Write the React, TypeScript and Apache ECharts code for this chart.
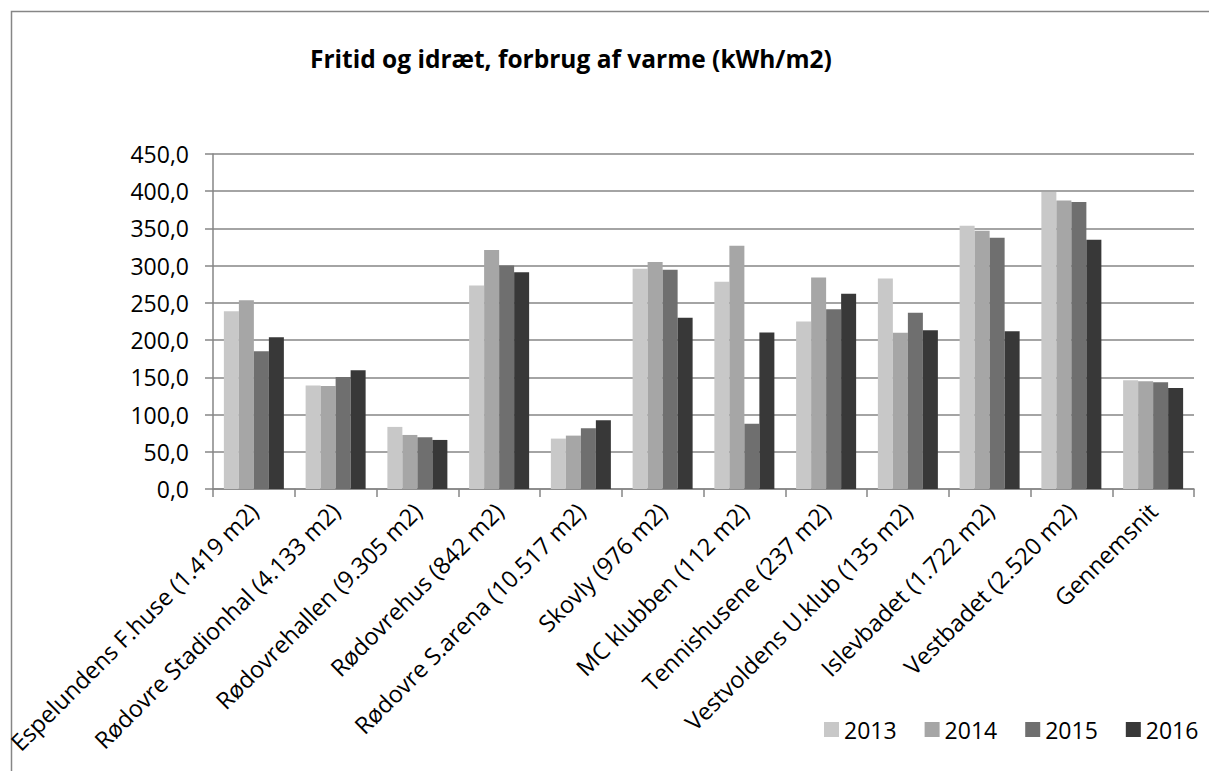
import React, { useEffect, useRef } from "react";
import * as echarts from "echarts";

const categories = [
  "Espelundens F.huse (1.419 m2)",
  "Rødovre Stadionhal (4.133 m2)",
  "Rødovrehallen (9.305 m2)",
  "Rødovrehus (842 m2)",
  "Rødovre S.arena (10.517 m2)",
  "Skovly (976 m2)",
  "MC klubben (112 m2)",
  "Tennishusene (237 m2)",
  "Vestvoldens U.klub (135 m2)",
  "Islevbadet (1.722 m2)",
  "Vestbadet (2.520 m2)",
  "Gennemsnit",
];

const years = ["2013", "2014", "2015", "2016"];

const values2013 = [238.9, 138.9, 83.4, 273.4, 67.7, 295.8, 278.3, 225.0, 282.8, 353.6, 398.9, 146.1];
const values2014 = [253.7, 138.5, 72.6, 320.9, 71.7, 304.8, 326.7, 284.2, 209.8, 346.9, 387.7, 144.8];
const values2015 = [185.1, 150.6, 69.5, 300.3, 81.6, 294.5, 87.8, 241.6, 236.7, 337.5, 385.5, 143.4];
const values2016 = [203.9, 159.6, 65.9, 291.3, 92.3, 229.9, 210.2, 262.2, 213.3, 212.0, 334.8, 135.8];

const seriesValues = [values2013, values2014, values2015, values2016];
const colors = ["#c8c8c8", "#a6a6a6", "#6f6f6f", "#383838"];

const FONT = "'Open Sans', 'Noto Sans', sans-serif";
const GRAY = "#868686";

export default function App() {
  const ref = useRef<HTMLDivElement>(null);

  useEffect(() => {
    if (!ref.current) return;
    const chart = echarts.init(ref.current, null, { renderer: "svg" });
    chart.setOption({
      animation: false,
      backgroundColor: "#ffffff",
      textStyle: { fontFamily: FONT, color: "#000" },
      title: {
        text: "Fritid og idræt, forbrug af varme (kWh/m2)",
        left: 305,
        top: 41,
        textStyle: { fontFamily: FONT, fontSize: 24.5, fontWeight: "bold", color: "#000" },
      },
      graphic: [
        {
          type: "rect",
          left: 9,
          top: 9,
          shape: { x: 0, y: 0, width: 1400, height: 1000 },
          style: { fill: "none", stroke: GRAY, lineWidth: 1.5 },
          silent: true,
        },
      ],
      legend: {
        data: years,
        left: 819,
        top: 713,
        itemWidth: 15,
        itemHeight: 15,
        itemGap: 28,
        icon: "rect",
        textStyle: { fontFamily: FONT, fontSize: 23, color: "#000" },
      },
      grid: { left: 213, right: 15, top: 154, bottom: 282, containLabel: false },
      xAxis: {
        type: "category",
        data: categories,
        axisLine: { show: true, lineStyle: { color: GRAY, width: 1.5 } },
        axisTick: { show: true, length: 8, lineStyle: { color: GRAY, width: 1.5 } },
        axisLabel: {
          rotate: 45,
          interval: 0,
          margin: 18,
          fontFamily: FONT,
          fontSize: 23.5,
          color: "#000",
        },
      },
      yAxis: {
        type: "value",
        min: 0,
        max: 450,
        interval: 50,
        axisLine: { show: true, lineStyle: { color: GRAY, width: 1.5 } },
        axisTick: { show: true, length: 8, lineStyle: { color: GRAY, width: 1.5 } },
        splitLine: { show: true, lineStyle: { color: GRAY, width: 1.5 } },
        axisLabel: {
          margin: 24,
          fontFamily: FONT,
          fontSize: 23,
          color: "#000",
          formatter: (v: number) => v.toFixed(1).replace(".", ","),
        },
      },
      series: years.map((y, i) => ({
        name: y,
        type: "bar",
        data: seriesValues[i],
        barGap: "0%",
        barCategoryGap: "26.6%",
        itemStyle: { color: colors[i] },
      })),
    });
    return () => chart.dispose();
  }, []);

  return (
    <div
      ref={ref}
      style={{ position: "absolute", left: 0, top: 0, width: 1209, height: 771 }}
    />
  );
}
